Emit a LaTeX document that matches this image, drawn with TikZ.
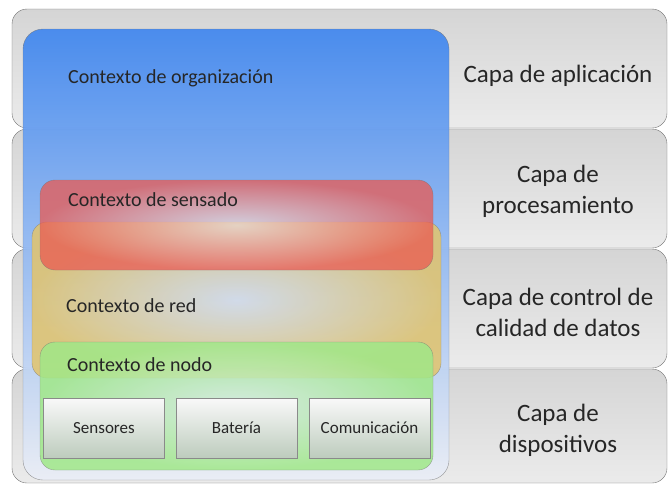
\documentclass[tikz,border=0pt]{standalone}
\usepackage{fontspec}
\setmainfont{Carlito}
\definecolor{capaborde}{HTML}{727272}
\definecolor{capaarriba}{HTML}{D5D5D5}
\definecolor{capaabajo}{HTML}{EBEBEB}
\definecolor{azularriba}{HTML}{3F86EF}
\definecolor{azulmedio}{HTML}{7EABEF}
\definecolor{azulabajo}{HTML}{EAEEF6}
\definecolor{rojofuera}{HTML}{EA5A52}
\definecolor{rojodentro}{HTML}{EAD8D8}
\definecolor{amarillofuera}{HTML}{E2C46C}
\definecolor{amarillodentro}{HTML}{D8DEE8}
\definecolor{verdefuera}{HTML}{A0E888}
\definecolor{verdedentro}{HTML}{D6EEDC}
\definecolor{parteborde}{HTML}{8A8A8A}
\definecolor{texto}{HTML}{262626}
\begin{document}
\begin{tikzpicture}[x=1pt,y=-1pt,
	capa/.style={draw=capaborde,rounded corners=15pt,top color=capaarriba,bottom color=capaabajo,minimum width=655pt,minimum height=119pt,inner sep=0pt},
	contexto/.style={draw=capaborde,draw opacity=0.6,rounded corners=15pt,fill opacity=0.85,inner sep=0pt,minimum width=393pt},
	parte/.style={draw=parteborde,top color=white!95!gray,bottom color=white!90!green!60!gray,minimum width=121pt,minimum height=60pt,inner sep=0pt,text=texto,font=\fontsize{17}{20}\selectfont},
	ctxtexto/.style={anchor=west,inner sep=0pt,text=texto,font=\fontsize{20}{24}\selectfont},
	capatexto/.style={align=center,inner sep=0pt,text=texto,font=\fontsize{25}{31}\selectfont}]
	\useasboundingbox (0,0) rectangle (668,485);

	\node[capa] (aplic) at (339.5,68.5) {};
	\node[capa] (proc) at (339.5,188.5) {};
	\node[capa] (control) at (339.5,308.5) {};
	\node[capa,minimum height=114pt] (disp) at (339.5,426) {};

	\node[draw=capaborde,draw opacity=0.7,rounded corners=20pt,fill opacity=0.92,top color=azularriba,middle color=azulmedio,bottom color=azulabajo,minimum width=426pt,minimum height=451pt] (org) at (236,254.5) {};
	\node[contexto,minimum width=409pt,minimum height=156pt,inner color=amarillodentro,outer color=amarillofuera] (red) at (236.5,300) {};
	\node[contexto,fill opacity=0.75,minimum height=90pt,inner color=rojodentro,outer color=rojofuera] (sens) at (236.5,225) {};
	\node[contexto,minimum height=128pt,inner color=verdedentro,outer color=verdefuera] (nodo) at (236.5,406) {};

	\node[parte] (sensores) at (104,428) {Sensores};
	\node[parte] (bateria) at (236.5,428) {Batería};
	\node[parte] (comun) at (369.5,428) {Comunicación};

	\node[ctxtexto] (torg) at (68,78) {Contexto de organización};
	\node[ctxtexto] (tsens) at (68,200) {Contexto de sensado};
	\node[ctxtexto] (tred) at (66,306) {Contexto de red};
	\node[ctxtexto] (tnodo) at (67,365) {Contexto de nodo};

	\node[capatexto] (taplic) at (558,76) {Capa de aplicación};
	\node[capatexto] (tproc) at (558,191) {Capa de\\procesamiento};
	\node[capatexto] (tcontrol) at (558,312) {Capa de control de\\calidad de datos};
	\node[capatexto] (tdisp) at (558,430) {Capa de\\dispositivos};
\end{tikzpicture}
\end{document}
